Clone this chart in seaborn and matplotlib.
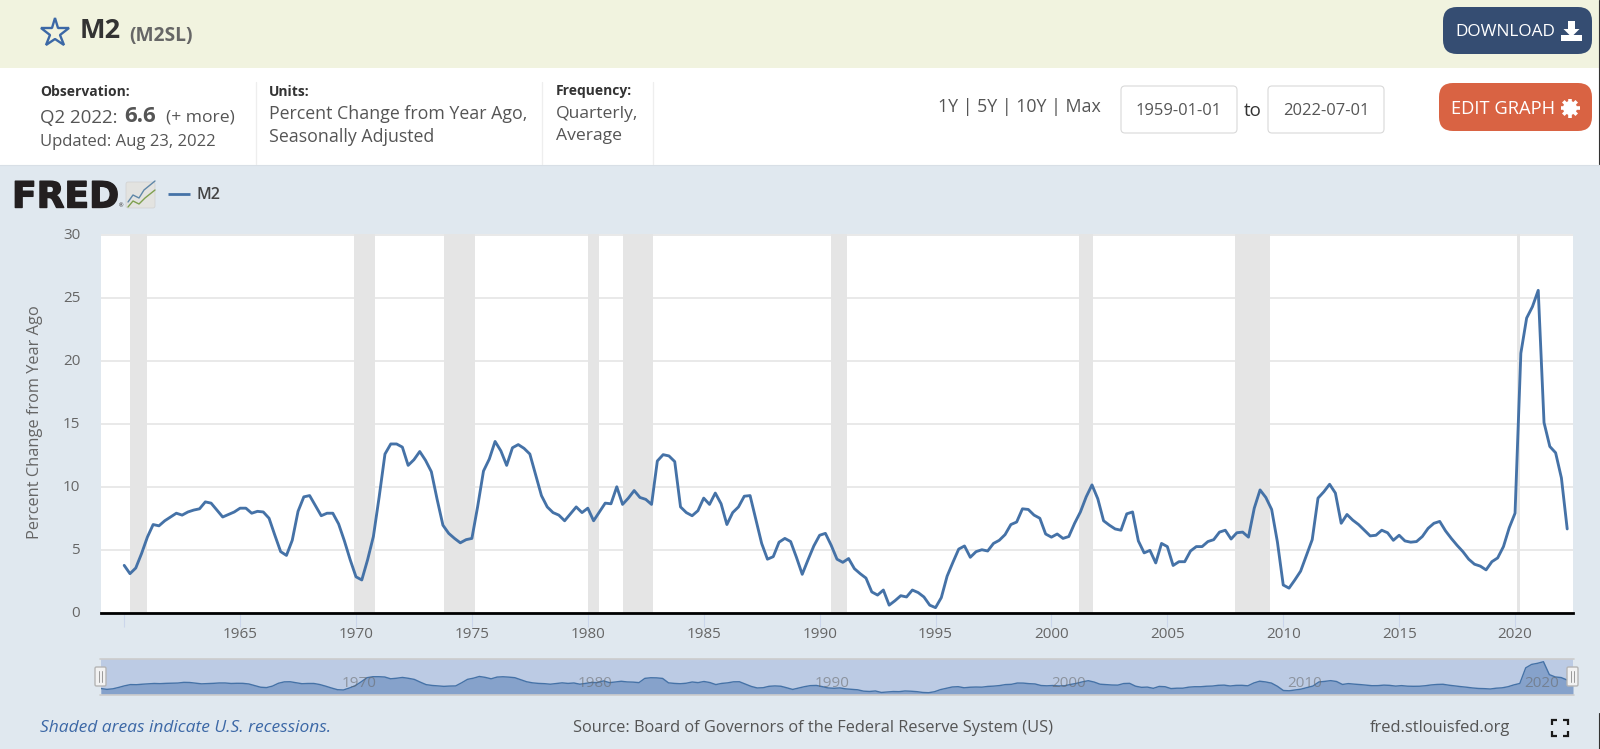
import numpy as np
import pandas as pd
import matplotlib
matplotlib.use("Agg")
import matplotlib.pyplot as plt
import matplotlib.patheffects as pe
from matplotlib.patches import Rectangle, FancyBboxPatch, Circle, Polygon
from matplotlib.transforms import ScaledTranslation
import seaborn as sns

m2_values = [
    3.76,3.1,3.55,4.7,6.0,7.0,6.9,7.3,7.6,7.9,
    7.75,8.0,8.15,8.25,8.8,8.7,8.15,7.6,7.8,8.0,
    8.3,8.3,7.9,8.05,8.0,7.5,6.15,4.85,4.55,5.75,
    8.05,9.2,9.3,8.5,7.7,7.9,7.9,7.05,5.7,4.2,
    2.85,2.6,4.2,6.05,9.2,12.6,13.4,13.4,13.15,11.7,
    12.15,12.8,12.1,11.2,9.0,6.95,6.3,5.9,5.55,5.8,
    5.9,8.45,11.25,12.2,13.6,12.85,11.7,13.1,13.35,13.05,
    12.6,10.95,9.3,8.4,7.95,7.75,7.3,7.85,8.4,7.95,
    8.3,7.3,8.0,8.7,8.65,10.0,8.6,9.1,9.7,9.15,
    9.0,8.6,12.05,12.55,12.45,12.0,8.4,7.95,7.7,8.1,
    9.1,8.6,9.5,8.65,7.0,7.95,8.4,9.25,9.3,7.4,
    5.5,4.25,4.45,5.6,5.9,5.65,4.4,3.05,4.2,5.3,
    6.15,6.3,5.35,4.25,4.0,4.3,3.5,3.1,2.75,1.65,
    1.4,1.8,0.6,0.95,1.35,1.25,1.8,1.6,1.25,0.6,
    0.4,1.2,2.9,4.0,5.05,5.3,4.4,4.85,5.0,4.9,
    5.5,5.75,6.2,7.0,7.2,8.25,8.2,7.75,7.5,6.25,
    6.0,6.25,5.9,6.05,7.1,8.0,9.2,10.15,9.05,7.3,
    6.95,6.65,6.55,7.85,8.0,5.7,4.75,4.95,3.95,5.5,
    5.25,3.75,4.05,4.05,4.9,5.25,5.25,5.65,5.8,6.4,
    6.55,5.85,6.35,6.4,6.0,8.3,9.75,9.15,8.2,5.6,
    2.2,1.95,2.6,3.3,4.55,5.8,9.1,9.6,10.2,9.5,
    7.1,7.8,7.35,7.0,6.55,6.1,6.15,6.55,6.35,5.75,
    6.15,5.7,5.6,5.65,6.05,6.7,7.1,7.25,6.5,5.9,
    5.35,4.85,4.25,3.85,3.7,3.4,4.05,4.35,5.25,6.75,
    7.9,20.6,23.4,24.3,25.6,15.1,13.2,12.7,10.7,6.65,
]
first_year = 1960
recession_start = [1960.25, 1969.92, 1973.8, 1980.0, 1981.5, 1990.47, 2001.17, 2007.9, 2020.07]
recession_end = [1961.0, 1970.83, 1975.15, 1980.5, 1982.8, 1991.16, 2001.8, 2009.42, 2020.23]
y_ticks = [0, 5, 10, 15, 20, 25, 30]
x_ticks = [1960, 1965, 1970, 1975, 1980, 1985, 1990, 1995, 2000, 2005, 2010, 2015, 2020]
x_labels = ["", "1965", "1970", "1975", "1980", "1985", "1990", "1995", "2000", "2005", "2010", "2015", "2020"]
nav_labels = [1970, 1980, 1990, 2000, 2010, 2020]

W, H = 1600, 749
BLUE = "#4572a7"
TXT = "#555555"
FONT = "Open Sans"

sns.set_theme(style="white")
plt.rcParams["font.family"] = [FONT, "DejaVu Sans"]

df = pd.DataFrame({"year": first_year + np.arange(len(m2_values)) / 4, "m2": m2_values})

fig = plt.figure(figsize=(16, 7.49), dpi=100, facecolor="#e0e8ef")


def axes_px(x0, y0, x1, y1, **kw):
    return fig.add_axes([x0 / W, 1 - y1 / H, (x1 - x0) / W, (y1 - y0) / H], **kw)


# page furniture, in pixel coordinates
bg = fig.add_axes([0, 0, 1, 1], zorder=0)
bg.set_xlim(0, W)
bg.set_ylim(H, 0)
bg.axis("off")
bg.add_patch(Rectangle((0, 0), W, 68, fc="#f1f3df", ec="none"))
bg.add_patch(Rectangle((0, 68), W, 96.5, fc="white", ec="none"))
bg.plot([0, W], [164.5, 164.5], color="#d8dfe6", lw=0.8)
for sx in (255.5, 542, 653):
    bg.plot([sx, sx], [82, 164], color="#eeeeee", lw=0.9)
bg.plot([1599.3, 1599.3], [0, 164], color="#333333", lw=0.8)
bg.plot([1599.3, 1599.3], [713, 749], color="#333333", lw=0.8)


def t(x, y, s, size=10, color=TXT, weight="normal", ha="left", va="center", **kw):
    return bg.text(x, y, s, fontsize=size, color=color, fontweight=weight, ha=ha, va=va, **kw)


def button(x0, y0, x1, y1, fc, ec="none", r=12, lw=0.8):
    bg.add_patch(FancyBboxPatch((x0 + r, y0 + r), x1 - x0 - 2 * r, y1 - y0 - 2 * r,
                                boxstyle=f"round,pad={r},rounding_size={r}",
                                fc=fc, ec=ec, lw=lw, mutation_aspect=1))


# header
bg.plot([54.5], [32.5], marker="*", ms=21, mfc="none", mec="#3c68a6", mew=1.7)
t(80, 31, "M2", size=19.5, color="#333333", weight="bold")
t(129, 36, "(M2SL)", size=13.8, color="#666666", weight="bold")
button(1443, 7, 1592, 54, "#354d72", r=14)
t(1455, 32.5, "DOWNLOAD", size=12.4, color="white")
bg.add_patch(Polygon([[1568, 21], [1575, 21], [1575, 29], [1579.5, 29], [1571.5, 37], [1563.5, 29], [1568, 29]],
                     fc="white", ec="none"))
bg.add_patch(Rectangle((1561, 35), 21, 6, fc="white", ec="none"))

# info row
t(40, 91.5, "Observation:", size=10, color="#333333", weight="bold")
t(40, 117.5, "Q2 2022:", size=13.5, color=TXT)
t(124, 116, "6.6", size=16, color=TXT, weight="bold")
t(166, 117.5, "(+ more)", size=12.6, color=TXT)
t(40, 142.5, "Updated: Aug 23, 2022", size=12, color=TXT)
t(269, 91.5, "Units:", size=10, color="#333333", weight="bold")
t(269, 114, "Percent Change from Year Ago,", size=12.8, color=TXT)
t(269, 136.5, "Seasonally Adjusted", size=12.8, color=TXT)
t(556, 91.5, "Frequency:", size=10, color="#333333", weight="bold")
t(556, 114, "Quarterly,", size=12.6, color=TXT)
t(556, 136.5, "Average", size=12.6, color=TXT)
t(938, 106.5, "1Y | 5Y | 10Y | Max", size=12.8, color=TXT)
button(1121, 86, 1237, 133, "white", ec="#d9d9d9", r=4)
button(1268, 86, 1384, 133, "white", ec="#d9d9d9", r=4)
t(1179, 111, "1959-01-01", size=11.9, color=TXT, ha="center")
t(1326, 111, "2022-07-01", size=11.9, color=TXT, ha="center")
t(1252.5, 111, "to", size=13.5, color="#333333", ha="center")
button(1439, 83, 1592, 131, "#d96343", r=14)
t(1451, 109, "EDIT GRAPH", size=13.2, color="white")
for a in np.deg2rad(np.arange(0, 180, 45)):
    dx, dy = 9.5 * np.cos(a), 9.5 * np.sin(a)
    bg.plot([1570 - dx, 1570 + dx], [108 - dy, 108 + dy], color="white", lw=2.6, solid_capstyle="butt")
bg.add_patch(Circle((1570, 108), 7, fc="white", ec="none"))
bg.add_patch(Circle((1570, 108), 3, fc="#d96343", ec="none"))

# FRED logo and legend
logo = t(12, 207.5, "FRED", size=26, color="#231f20", weight="bold", va="baseline", family="DejaVu Sans")
logo.set_path_effects([pe.withStroke(linewidth=1.0, foreground="#231f20")])
t(118.5, 206, "®", size=4, color="#231f20")
bg.add_patch(FancyBboxPatch((127, 183), 27, 24, boxstyle="round,pad=1,rounding_size=2",
                            fc="#e3e3e0", ec="#d0d0d0", lw=0.5))
bg.plot([128, 133, 139, 144, 155], [202, 195, 198, 190, 181], color="#5f87a8", lw=1)
bg.plot([128, 133, 139, 145, 155], [207, 201, 204, 198, 190], color="#7fa04f", lw=1)
bg.plot([168, 190], [193.5, 193.5], color=BLUE, lw=2, solid_capstyle="butt")
t(197, 195, "M2", size=11.5, color="#444444", weight="semibold")

# main chart
ax = axes_px(101, 234.3, 1573, 612.7, zorder=2)
ax.set_facecolor("white")
for s, e in zip(recession_start, recession_end):
    ax.axvspan(s, e, color="#e5e5e5", lw=0, zorder=1.5)
sns.lineplot(data=df, x="year", y="m2", ax=ax, color=BLUE, lw=2.05, estimator=None, errorbar=None, zorder=3)
ax.set_xlim(1959.0, 2022.5)
ax.set_ylim(0, 30.05)
ax.set_yticks(y_ticks)
ax.set_xticks(x_ticks)
ax.set_xticklabels(x_labels)
ax.yaxis.grid(True, color="#e6e6e6", lw=1.25, zorder=1)
ax.xaxis.grid(False)
ax.set_axisbelow(True)
for sp in ("top", "left", "right"):
    ax.spines[sp].set_visible(False)
ax.spines["bottom"].set_color("black")
ax.spines["bottom"].set_linewidth(2.0)
ax.spines["bottom"].set_zorder(5)
ax.tick_params(axis="y", length=0, pad=15, labelsize=11, labelcolor="#666666")
ax.tick_params(axis="x", length=10, width=0.8, color="#ccd6eb", pad=0.5, labelsize=11, labelcolor="#666666", bottom=True)
up = ScaledTranslation(0, 0.8 / 72, fig.dpi_scale_trans)
for lab in ax.get_yticklabels():
    lab.set_transform(lab.get_transform() + up)
ax.set_xlabel("")
ax.set_ylabel("")
t(35.5, 422, "Percent Change from Year Ago", size=11.8, color="#666666", rotation=90, ha="center")

# navigator
nav = axes_px(101, 659, 1573, 694, zorder=2)
nav.set_facecolor("#bccbe4")
nav.fill_between(df["year"], -1, df["m2"], color="#86a2cb", lw=0, zorder=1)
sns.lineplot(data=df, x="year", y="m2", ax=nav, color=BLUE, lw=1.0, estimator=None, errorbar=None, zorder=2)
nav.set_xlim(first_year, df["year"].iloc[-1])
nav.set_ylim(-0.66, 27.8)
nav.set_xticks([])
nav.set_yticks([])
nav.set_xlabel("")
nav.set_ylabel("")
for sp in nav.spines.values():
    sp.set_visible(False)
for yr in nav_labels:
    nav.annotate(str(yr), (yr, 0), xycoords=("data", "axes fraction"), xytext=(15.5, 7.5),
                 textcoords="offset points", ha="center", va="center", fontsize=11,
                 color="#666666", alpha=0.55, zorder=3)

# furniture over the navigator
top = fig.add_axes([0, 0, 1, 1], zorder=4)
top.set_xlim(0, W)
top.set_ylim(H, 0)
top.axis("off")
top.patch.set_alpha(0)
top.plot([100, 1574], [658.8, 658.8], color="#cccccc", lw=1.2)
top.plot([100, 1574], [694.5, 694.5], color="#cccccc", lw=1.2)
for hx in (100.5, 1572.5):
    top.add_patch(FancyBboxPatch((hx - 4.5, 668), 9, 17, boxstyle="round,pad=1,rounding_size=1.5",
                                 fc="#f2f2f2", ec="#b5b5b5", lw=1.0))
    for d in (-1.4, 1.4):
        top.plot([hx + d, hx + d], [671, 682], color="#9a9a9a", lw=0.7)

# footer
t(40, 727.5, "Shaded areas indicate U.S. recessions.", size=12.5, color="#3c68a6", style="italic")
t(573, 727.5, "Source: Board of Governors of the Federal Reserve System (US)", size=11.8, color=TXT)
t(1370, 727.5, "fred.stlouisfed.org", size=11.9, color=TXT)
for cx, cy in ((1552, 720), (1568, 720), (1552, 736), (1568, 736)):
    sx = 1 if cx < 1560 else -1
    sy = 1 if cy < 728 else -1
    bg.plot([cx + sx * 5, cx, cx], [cy, cy, cy + sy * 5], color="#1a1a1a", lw=1.6,
            solid_joinstyle="miter", solid_capstyle="butt")

fig.savefig("out.png", dpi=100, facecolor=fig.get_facecolor())
